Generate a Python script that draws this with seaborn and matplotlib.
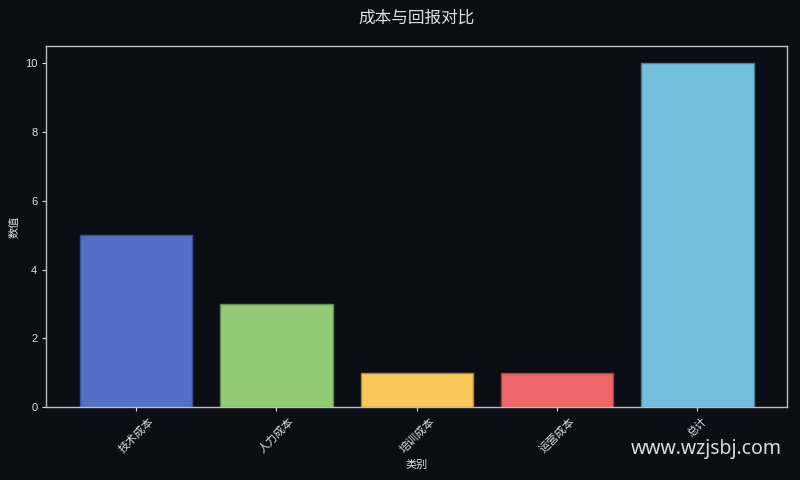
import matplotlib
matplotlib.use("Agg")
import matplotlib.pyplot as plt
import pandas as pd
import seaborn as sns

categories = ["技术成本", "人力成本", "培训成本", "运营成本", "总计"]
values = [5, 3, 1, 1, 10]
colors = ["#5470c6", "#91cc75", "#fac858", "#ee6666", "#73c0de"]
edge_colors = ["#3a4f8f", "#5f8a4c", "#a8863a", "#a04444", "#4d8296"]

bg = "#0b0e14"
fg = "#e0e0e0"

sns.set_theme(style="dark")
plt.rcParams["font.family"] = ["Liberation Sans", "Noto Sans CJK SC", "DejaVu Sans"]
plt.rcParams["axes.unicode_minus"] = False

df = pd.DataFrame({"类别": categories, "数值": values})

fig, ax = plt.subplots(figsize=(8, 4.8), dpi=100)
fig.patch.set_facecolor(bg)
ax.set_facecolor(bg)

sns.barplot(data=df, x="类别", y="数值", hue="类别", palette=colors,
            legend=False, width=0.8, saturation=1, ax=ax)
for patch, ec in zip(ax.patches, edge_colors):
    patch.set_edgecolor(ec)
    patch.set_linewidth(1)

ax.set_xlim(-0.64, 4.64)
ax.set_ylim(0, 10.5)
ax.set_yticks([0, 2, 4, 6, 8, 10])

ax.set_title("成本与回报对比", color=fg, fontsize=12, pad=17,
             family=["Noto Sans CJK SC", "DejaVu Sans"])
ax.set_xlabel("类别", color=fg, fontsize=8)
ax.set_ylabel("数值", color=fg, fontsize=8)
ax.tick_params(axis="both", colors=fg, labelsize=8, length=3, width=0.8,
               bottom=True, left=True)
plt.setp(ax.get_xticklabels(), rotation=45)
ax.grid(False)
for spine in ax.spines.values():
    spine.set_visible(True)
    spine.set_color("#bfbfbf")
    spine.set_linewidth(1)

fig.subplots_adjust(left=0.058, right=0.984, top=0.904, bottom=0.152)
fig.text(0.977, 0.065, "www.wzjsbj.com", color="#dcdcdc", fontsize=14,
         ha="right", va="center", family=["Noto Sans", "DejaVu Sans"])

fig.savefig("out.png", dpi=100, facecolor=bg)
